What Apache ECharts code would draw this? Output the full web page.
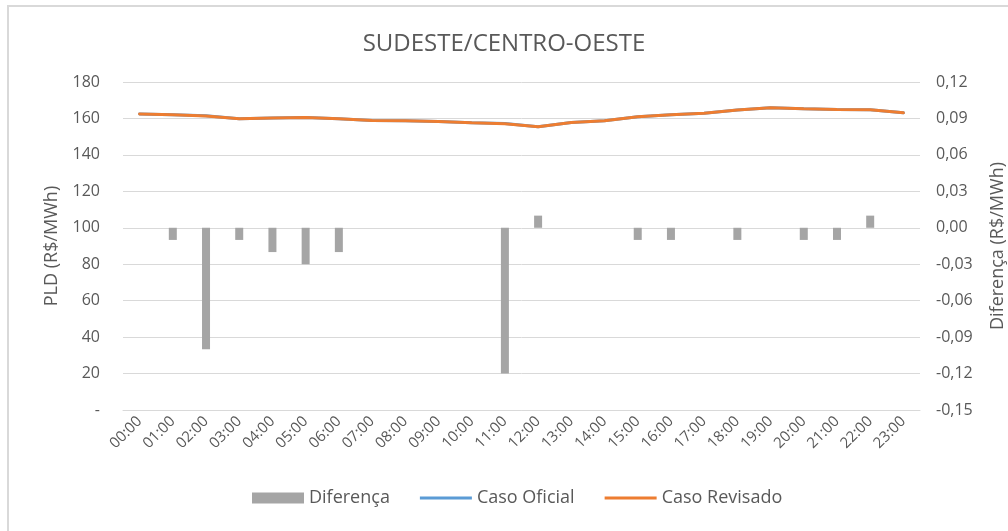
<!DOCTYPE html>
<html>
<head>
<meta charset="utf-8">
<script src="https://cdn.jsdelivr.net/npm/echarts@6/dist/echarts.min.js"></script>
<style>
  html, body { margin: 0; padding: 0; background: #fff; }
  #moldura { position: absolute; left: 7px; top: 5px; width: 1010px; height: 540px; border: 2px solid #d9d9d9; }
  #sudeste { position: absolute; left: 0; top: 0; width: 1008px; height: 531px; }
</style>
</head>
<body>
<div id="moldura"></div>
<div id="sudeste"></div>
<script>
  // horas do dia
  var horas = ['00:00','01:00','02:00','03:00','04:00','05:00','06:00','07:00','08:00','09:00','10:00','11:00',
               '12:00','13:00','14:00','15:00','16:00','17:00','18:00','19:00','20:00','21:00','22:00','23:00'];
  // diferença (R$/MWh) - eixo da direita
  var diferenca = [0, -0.01, -0.10, -0.01, -0.02, -0.03, -0.02, 0, 0, 0, 0, -0.12,
                   0.01, 0, 0, -0.01, -0.01, 0, -0.01, 0, -0.01, -0.01, 0.01, 0];
  // PLD caso oficial
  var casoOficial = [162.5, 162.01, 161.5, 159.81, 160.22, 160.53, 159.82, 158.9, 158.7, 158.3, 157.6, 157.22,
                     155.39, 157.8, 158.7, 160.91, 162.01, 162.9, 164.61, 165.9, 165.31, 164.91, 164.79, 163.1];
  // PLD caso revisado
  var casoRevisado = [162.5, 162.0, 161.4, 159.8, 160.2, 160.5, 159.8, 158.9, 158.7, 158.3, 157.6, 157.1,
                      155.4, 157.8, 158.7, 160.9, 162.0, 162.9, 164.6, 165.9, 165.3, 164.9, 164.8, 163.1];

  var fonte = '"Open Sans", sans-serif';
  var cinzaTexto = '#595959';
  // ícone de linha fina para a legenda (sem o círculo)
  var iconeLinha = 'path://M0,0 L52,0 L52,3 L0,3 Z';

  var sudesteOption = {
    title: {
      text: 'SUDESTE/CENTRO-OESTE',
      left: 'center',
      top: 32,
      padding: 0,
      textStyle: { color: cinzaTexto, fontFamily: fonte, fontSize: 24, fontWeight: 'normal' }
    },
    legend: {
      bottom: 19,
      left: 247,
      itemWidth: 52,
      itemHeight: 11,
      itemGap: 30,
      textStyle: { color: cinzaTexto, fontFamily: fonte, fontSize: 18 },
      data: [
        { name: 'Diferença', icon: 'rect' },
        { name: 'Caso Oficial', icon: iconeLinha },
        { name: 'Caso Revisado', icon: iconeLinha }
      ]
    },
    grid: {
      left: 123,
      right: 88,
      top: 82,
      bottom: 121,
      outerBoundsMode: 'none'   // não encolher a área do gráfico por causa dos nomes dos eixos
    },
    xAxis: {
      type: 'category',
      data: horas,
      axisLine: { show: true, lineStyle: { color: '#d9d9d9', width: 1 } },
      axisTick: { show: false },
      axisLabel: {
        rotate: 45,
        interval: 0,
        margin: 9,
        color: cinzaTexto,
        fontFamily: fonte,
        fontSize: 15
      }
    },
    yAxis: [
      {
        type: 'value',
        name: 'PLD (R$/MWh)',
        nameLocation: 'middle',
        nameGap: 62,
        nameTextStyle: { color: cinzaTexto, fontFamily: fonte, fontSize: 18 },
        min: 0,
        max: 180,
        interval: 20,
        axisLine: { show: false },
        axisTick: { show: false },
        axisLabel: {
          margin: 23,
          color: cinzaTexto,
          fontFamily: fonte,
          fontSize: 16,
          formatter: function (v) { return v === 0 ? '-' : String(v); }
        },
        splitLine: { show: true, lineStyle: { color: '#d9d9d9', width: 1 } }
      },
      {
        type: 'value',
        name: 'Diferença (R$/MWh)',
        nameLocation: 'middle',
        nameGap: 69,
        nameRotate: 90,
        nameTextStyle: { color: cinzaTexto, fontFamily: fonte, fontSize: 18 },
        min: -0.15,
        max: 0.12,
        interval: 0.03,
        axisLine: { show: false },
        axisTick: { show: false },
        axisLabel: {
          margin: 16,
          color: cinzaTexto,
          fontFamily: fonte,
          fontSize: 16,
          formatter: function (v) { return v.toFixed(2).replace('.', ','); }
        },
        splitLine: { show: false }
      }
    ],
    series: [
      {
        name: 'Diferença',
        type: 'bar',
        yAxisIndex: 1,
        data: diferenca,
        barWidth: 8,
        itemStyle: { color: '#a5a5a5' }
      },
      {
        name: 'Caso Oficial',
        type: 'line',
        yAxisIndex: 0,
        data: casoOficial,
        symbol: 'none',
        lineStyle: { color: '#5b9bd5', width: 3, cap: 'round' },
        itemStyle: { color: '#5b9bd5' }
      },
      {
        name: 'Caso Revisado',
        type: 'line',
        yAxisIndex: 0,
        data: casoRevisado,
        symbol: 'none',
        lineStyle: { color: '#ed7d31', width: 3, cap: 'round' },
        itemStyle: { color: '#ed7d31' }
      }
    ]
  };

  var sudesteChart = echarts.init(document.getElementById('sudeste'));
  sudesteChart.setOption(sudesteOption, true);
</script>
</body>
</html>
